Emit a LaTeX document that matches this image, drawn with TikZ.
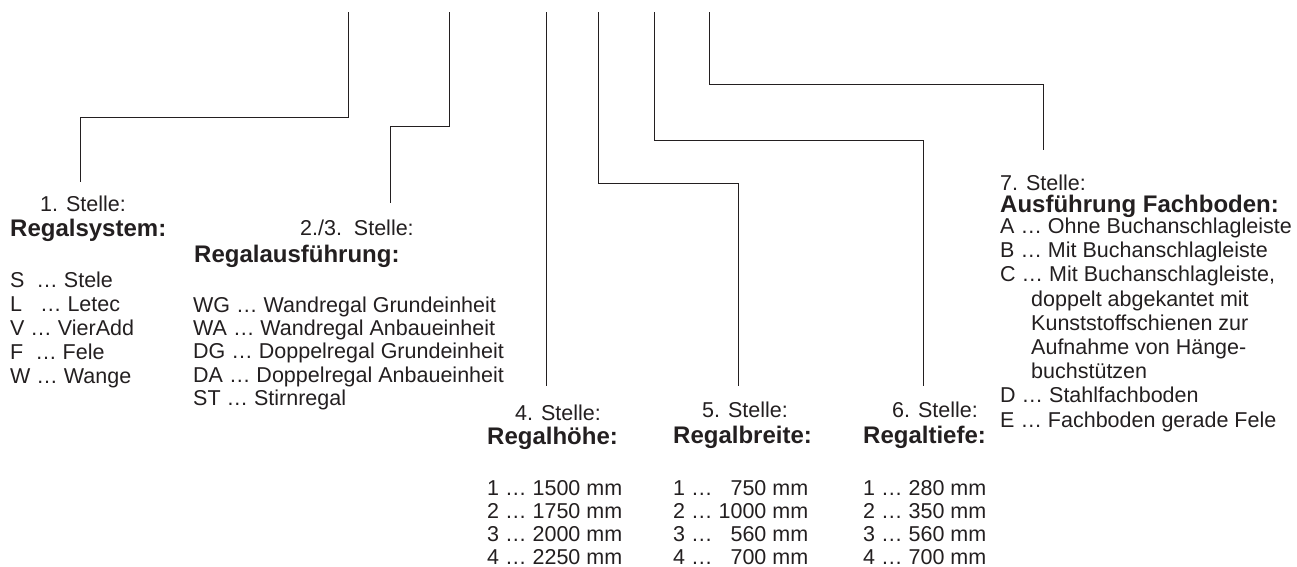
\documentclass[tikz,border=0pt]{standalone}
\usepackage{fontspec}
\setmainfont{Liberation Sans}
\definecolor{ink}{RGB}{35,31,32}
\tikzset{
  txt/.style={inner sep=0pt, anchor=base west, text=ink, font=\fontsize{21.5}{23.4}\selectfont},
  ttl/.style={txt, font=\fontsize{24}{26}\selectfont\bfseries},
  conn/.style={draw=ink, line width=1pt},
}
\begin{document}
\begin{tikzpicture}[x=1pt,y=-1pt]
\useasboundingbox (0,0) rectangle (1297,566);
% connectors
\coordinate (t1) at (348,12);  \coordinate (k1) at (80,117);   \coordinate (b1) at (80,182);
\coordinate (t2) at (449,12);  \coordinate (k2) at (390,126);  \coordinate (b2) at (390,203);
\coordinate (t3) at (546,12);  \coordinate (b3) at (546,386);
\coordinate (t4) at (598,12);  \coordinate (k4) at (738,183);  \coordinate (b4) at (738,386);
\coordinate (t5) at (654,12);  \coordinate (k5) at (923,140);  \coordinate (b5) at (923,386);
\coordinate (t6) at (709,12);  \coordinate (k6) at (1043,84);  \coordinate (b6) at (1043,150);
\draw[conn] (t1) |- (k1) -- (b1);
\draw[conn] (t2) |- (k2) -- (b2);
\draw[conn] (t3) -- (b3);
\draw[conn] (t4) |- (k4) -- (b4);
\draw[conn] (t5) |- (k5) -- (b5);
\draw[conn] (t6) |- (k6) -- (b6);
% block 1
\node[txt] (s1) at (40,211) {1. Stelle:};
\node[ttl] (r1) at (10,236) {Regalsystem:};
\node[txt] (a1) at (10,287) {S\ \ … Stele};
\node[txt] (a2) at (10,311) {L\ \ \ … Letec};
\node[txt] (a3) at (10,335) {V … VierAdd};
\node[txt] (a4) at (10,359) {F\ \ … Fele};
\node[txt] (a5) at (10,383) {W … Wange};
% block 2
\node[txt] (s2) at (300,235) {2./3.\ \ Stelle:};
\node[ttl] (r2) at (194,262) {Regalausführung:};
\node[txt] (w1) at (193,312) {WG … Wandregal Grundeinheit};
\node[txt] (w2) at (193,335.3) {WA … Wandregal Anbaueinheit};
\node[txt] (w3) at (193,358.6) {DG … Doppelregal Grundeinheit};
\node[txt] (w4) at (193,382) {DA … Doppelregal Anbaueinheit};
\node[txt] (w5) at (193,405.2) {ST … Stirnregal};
% block 4
\node[txt] (s4) at (515,420) {4. Stelle:};
\node[ttl] (r4) at (487,444.5) {Regalhöhe:};
\node[txt] (h1) at (487,495) {1 … 1500 mm};
\node[txt] (h2) at (487,518) {2 … 1750 mm};
\node[txt] (h3) at (487,541) {3 … 2000 mm};
\node[txt] (h4) at (487,564) {4 … 2250 mm};
% block 5
\node[txt] (s5) at (702,417) {5. Stelle:};
\node[ttl] (r5) at (673,443) {Regalbreite:};
\node[txt] (br1) at (673,495) {1 … \phantom{0}750 mm};
\node[txt] (br2) at (673,518) {2 … 1000 mm};
\node[txt] (br3) at (673,541) {3 … \phantom{0}560 mm};
\node[txt] (br4) at (673,564) {4 … \phantom{0}700 mm};
% block 6
\node[txt] (s6) at (892,417) {6. Stelle:};
\node[ttl] (r6) at (863,443) {Regaltiefe:};
\node[txt] (d1) at (863,495) {1 … 280 mm};
\node[txt] (d2) at (863,518) {2 … 350 mm};
\node[txt] (d3) at (863,541) {3 … 560 mm};
\node[txt] (d4) at (863,564) {4 … 700 mm};
% block 7
\node[txt] (s7) at (1000,190) {7. Stelle:};
\node[ttl] (r7) at (1000,212.7) {Ausführung Fachboden:};
\node[txt] (f1) at (1000,233.5) {A … Ohne Buchanschlagleiste};
\node[txt] (f2) at (1000,257.7) {B … Mit Buchanschlagleiste};
\node[txt] (f3) at (1000,281.9) {C … Mit Buchanschlagleiste,};
\node[txt] (f3b) at (1031,306.1) {doppelt abgekantet mit};
\node[txt] (f3c) at (1031,330.3) {Kunststoffschienen zur};
\node[txt] (f3d) at (1031,354.5) {Aufnahme von Hänge-};
\node[txt] (f3e) at (1031,378.7) {buchstützen};
\node[txt] (f4) at (1000,402.9) {D … Stahlfachboden};
\node[txt] (f5) at (1000,427.1) {E … Fachboden gerade Fele};
\end{tikzpicture}
\end{document}
